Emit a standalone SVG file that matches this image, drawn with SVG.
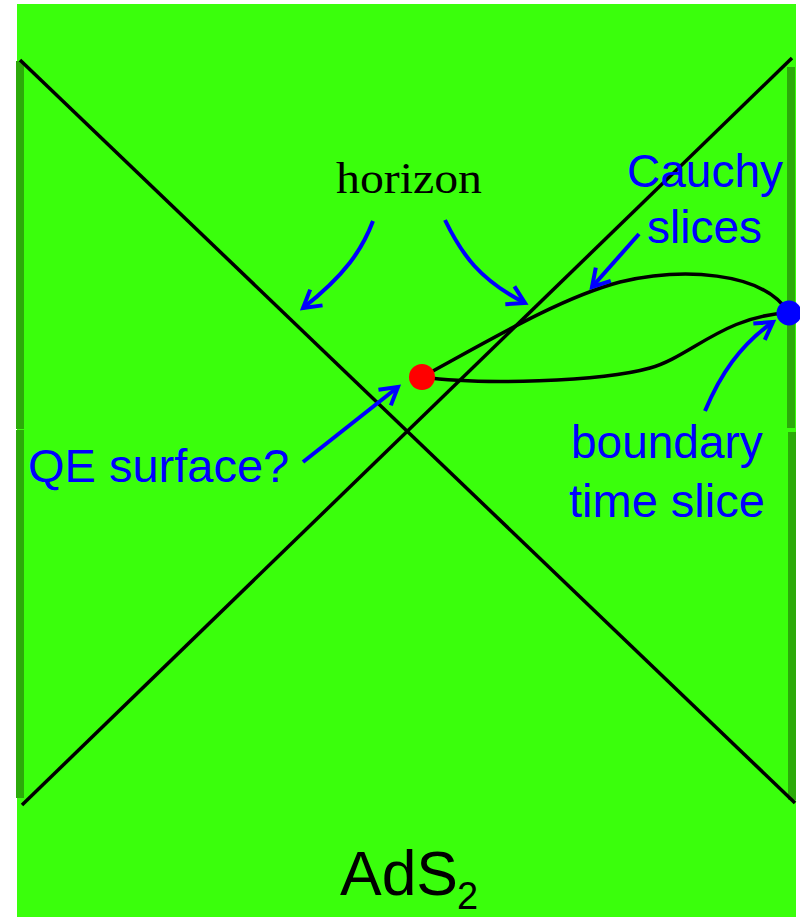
<svg xmlns="http://www.w3.org/2000/svg" width="800" height="919" viewBox="0 0 800 919">
<defs>
<style>
.bg{fill:#3aff0c}
.bar{fill:#2caa0a}
.line{stroke:#000;stroke-width:3.5;fill:none}
.arr{stroke:#0000ff;stroke-width:4;fill:none;marker-end:url(#chev)}
.blue{font-family:"Liberation Sans",Arial,sans-serif;fill:#0000ff}
</style>
<marker id="chev" markerUnits="userSpaceOnUse" viewBox="-20 -12 24 24" refX="0" refY="0" markerWidth="24" markerHeight="24" orient="auto">
<path d="M-17,-10 L0,0 L-17,10" fill="none" stroke="#0000ff" stroke-width="4"/>
</marker>
</defs>
<rect class="bg" x="17" y="4" width="779" height="913"/>
<g id="boundaries">
<rect class="bar" x="16" y="61" width="8" height="368"/>
<rect class="bar" x="16" y="430" width="8" height="368"/>
<rect class="bar" x="787" y="67" width="8" height="361"/>
<rect class="bar" x="788" y="432" width="8" height="368"/>
</g>
<g id="connectors">
<line class="line" x1="20" y1="60" x2="795" y2="803"/>
<line class="line" x1="792" y1="58" x2="22" y2="805"/>
<path class="line" d="M422,377 C490,340 560,298 620,282 C680,268 762,270 789,313"/>
<path class="line" d="M422,377 C480,385 600,382 650,368 C690,357 725,315 789,313"/>
<path class="arr" d="M373,221 C362,250 345,275 303,308"/>
<path class="arr" d="M445,220 C462,255 480,280 525,303"/>
<path class="arr" d="M639,234 L592,287"/>
<path class="arr" d="M705,411 C720,375 740,345 773,322"/>
<path class="arr" d="M303,462 L398,387"/>
</g>
<g id="qe-point"><circle cx="422" cy="377" r="13" fill="#ff0000"/></g>
<g id="boundary-point"><circle cx="789" cy="313" r="12.5" fill="#0000ff"/></g>
<g id="horizon-label"><text x="336" y="193" font-family="Liberation Serif,serif" font-size="45" textLength="146" lengthAdjust="spacingAndGlyphs">horizon</text></g>
<g id="cauchy-label">
<text class="blue" x="627" y="187" font-size="46">Cauchy</text>
<text class="blue" x="647" y="243" font-size="46">slices</text>
</g>
<g id="boundary-label">
<text class="blue" x="571" y="458" font-size="46">boundary</text>
<text class="blue" x="569" y="517" font-size="47">time slice</text>
</g>
<g id="qe-label"><text class="blue" x="28" y="482" font-size="47">QE surface?</text></g>
<g id="ads-label"><text x="340" y="895" font-family="Liberation Sans,Arial,sans-serif" font-size="63" textLength="118" lengthAdjust="spacingAndGlyphs">AdS</text><text x="457" y="909" font-family="Liberation Sans,Arial,sans-serif" font-size="38">2</text></g>
</svg>
